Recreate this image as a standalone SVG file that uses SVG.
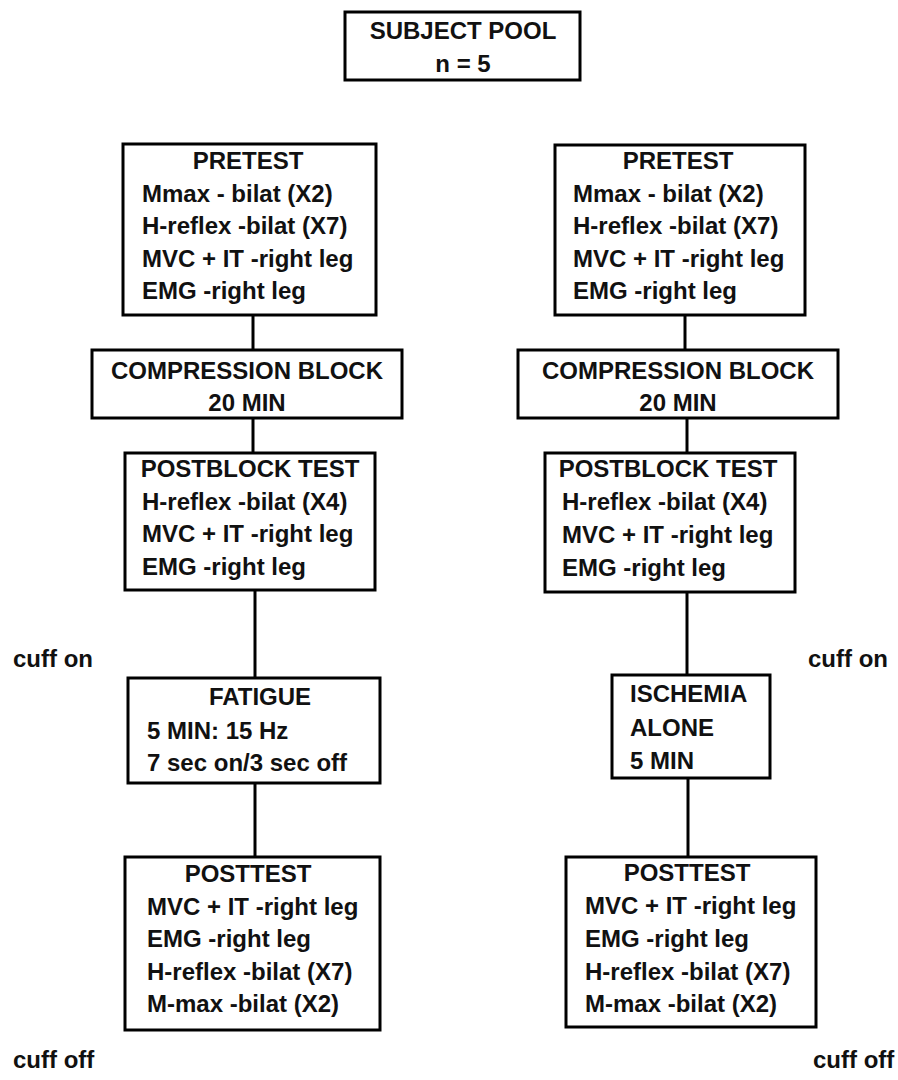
<svg xmlns="http://www.w3.org/2000/svg" width="898" height="1080" viewBox="0 0 898 1080">
<style>
rect{fill:#fff;stroke:#000;stroke-width:3}
text{font-family:"Liberation Sans",Arial,sans-serif;font-size:24px;font-weight:bold;fill:#111}
.c{text-anchor:middle}
#connectors line{stroke:#000;stroke-width:3}
</style>
<rect x="0" y="0" width="898" height="1080" style="stroke:none"/>
<g id="connectors">
<line x1="253" y1="315" x2="253" y2="350"/>
<line x1="253" y1="418" x2="253" y2="453"/>
<line x1="255" y1="590" x2="255" y2="678"/>
<line x1="255" y1="783" x2="255" y2="857"/>
<line x1="685" y1="315" x2="685" y2="350"/>
<line x1="687" y1="418" x2="687" y2="453"/>
<line x1="687" y1="592" x2="687" y2="675"/>
<line x1="688" y1="778" x2="688" y2="857"/>
</g>
<g id="subject-pool">
<rect x="345" y="12" width="235" height="68"/>
<text class="c" x="463" y="39">SUBJECT POOL</text>
<text class="c" x="463" y="72">n = 5</text>
</g>
<g id="pretest-left">
<rect x="123" y="144" width="253" height="171"/>
<text class="c" x="248" y="169">PRETEST</text>
<text x="142" y="202">Mmax - bilat (X2)</text>
<text x="142" y="234">H-reflex -bilat (X7)</text>
<text x="142" y="267">MVC + IT -right leg</text>
<text x="142" y="299">EMG -right leg</text>
</g>
<g id="compression-left">
<rect x="92" y="350" width="310" height="68"/>
<text class="c" x="247" y="379">COMPRESSION BLOCK</text>
<text class="c" x="247" y="411">20 MIN</text>
</g>
<g id="postblock-left">
<rect x="125" y="453" width="250" height="137"/>
<text class="c" x="250" y="477">POSTBLOCK TEST</text>
<text x="142" y="510">H-reflex -bilat (X4)</text>
<text x="142" y="542">MVC + IT -right leg</text>
<text x="142" y="575">EMG -right leg</text>
</g>
<text id="cuff-on-left" x="13" y="667">cuff on</text>
<g id="fatigue">
<rect x="128" y="678" width="252" height="105"/>
<text class="c" x="260" y="705">FATIGUE</text>
<text x="147" y="739">5 MIN: 15 Hz</text>
<text x="147" y="771">7 sec on/3 sec off</text>
</g>
<g id="posttest-left">
<rect x="125" y="857" width="255" height="173"/>
<text class="c" x="248" y="882">POSTTEST</text>
<text x="147" y="915">MVC + IT -right leg</text>
<text x="147" y="947">EMG -right leg</text>
<text x="147" y="980">H-reflex -bilat (X7)</text>
<text x="147" y="1012">M-max -bilat (X2)</text>
</g>
<text id="cuff-off-left" x="13" y="1068">cuff off</text>
<g id="pretest-right">
<rect x="555" y="145" width="250" height="170"/>
<text class="c" x="678" y="169">PRETEST</text>
<text x="573" y="202">Mmax - bilat (X2)</text>
<text x="573" y="234">H-reflex -bilat (X7)</text>
<text x="573" y="267">MVC + IT -right leg</text>
<text x="573" y="299">EMG -right leg</text>
</g>
<g id="compression-right">
<rect x="518" y="350" width="320" height="68"/>
<text class="c" x="678" y="379">COMPRESSION BLOCK</text>
<text class="c" x="678" y="411">20 MIN</text>
</g>
<g id="postblock-right">
<rect x="545" y="453" width="250" height="139"/>
<text class="c" x="668" y="477">POSTBLOCK TEST</text>
<text x="562" y="510">H-reflex -bilat (X4)</text>
<text x="562" y="543">MVC + IT -right leg</text>
<text x="562" y="576">EMG -right leg</text>
</g>
<text id="cuff-on-right" x="808" y="667">cuff on</text>
<g id="ischemia">
<rect x="612" y="675" width="158" height="103"/>
<text x="630" y="702">ISCHEMIA</text>
<text x="630" y="736">ALONE</text>
<text x="630" y="769">5 MIN</text>
</g>
<g id="posttest-right">
<rect x="566" y="857" width="250" height="170"/>
<text class="c" x="687" y="881">POSTTEST</text>
<text x="585" y="914">MVC + IT -right leg</text>
<text x="585" y="947">EMG -right leg</text>
<text x="585" y="980">H-reflex -bilat (X7)</text>
<text x="585" y="1012">M-max -bilat (X2)</text>
</g>
<text id="cuff-off-right" x="813" y="1068">cuff off</text>
</svg>
